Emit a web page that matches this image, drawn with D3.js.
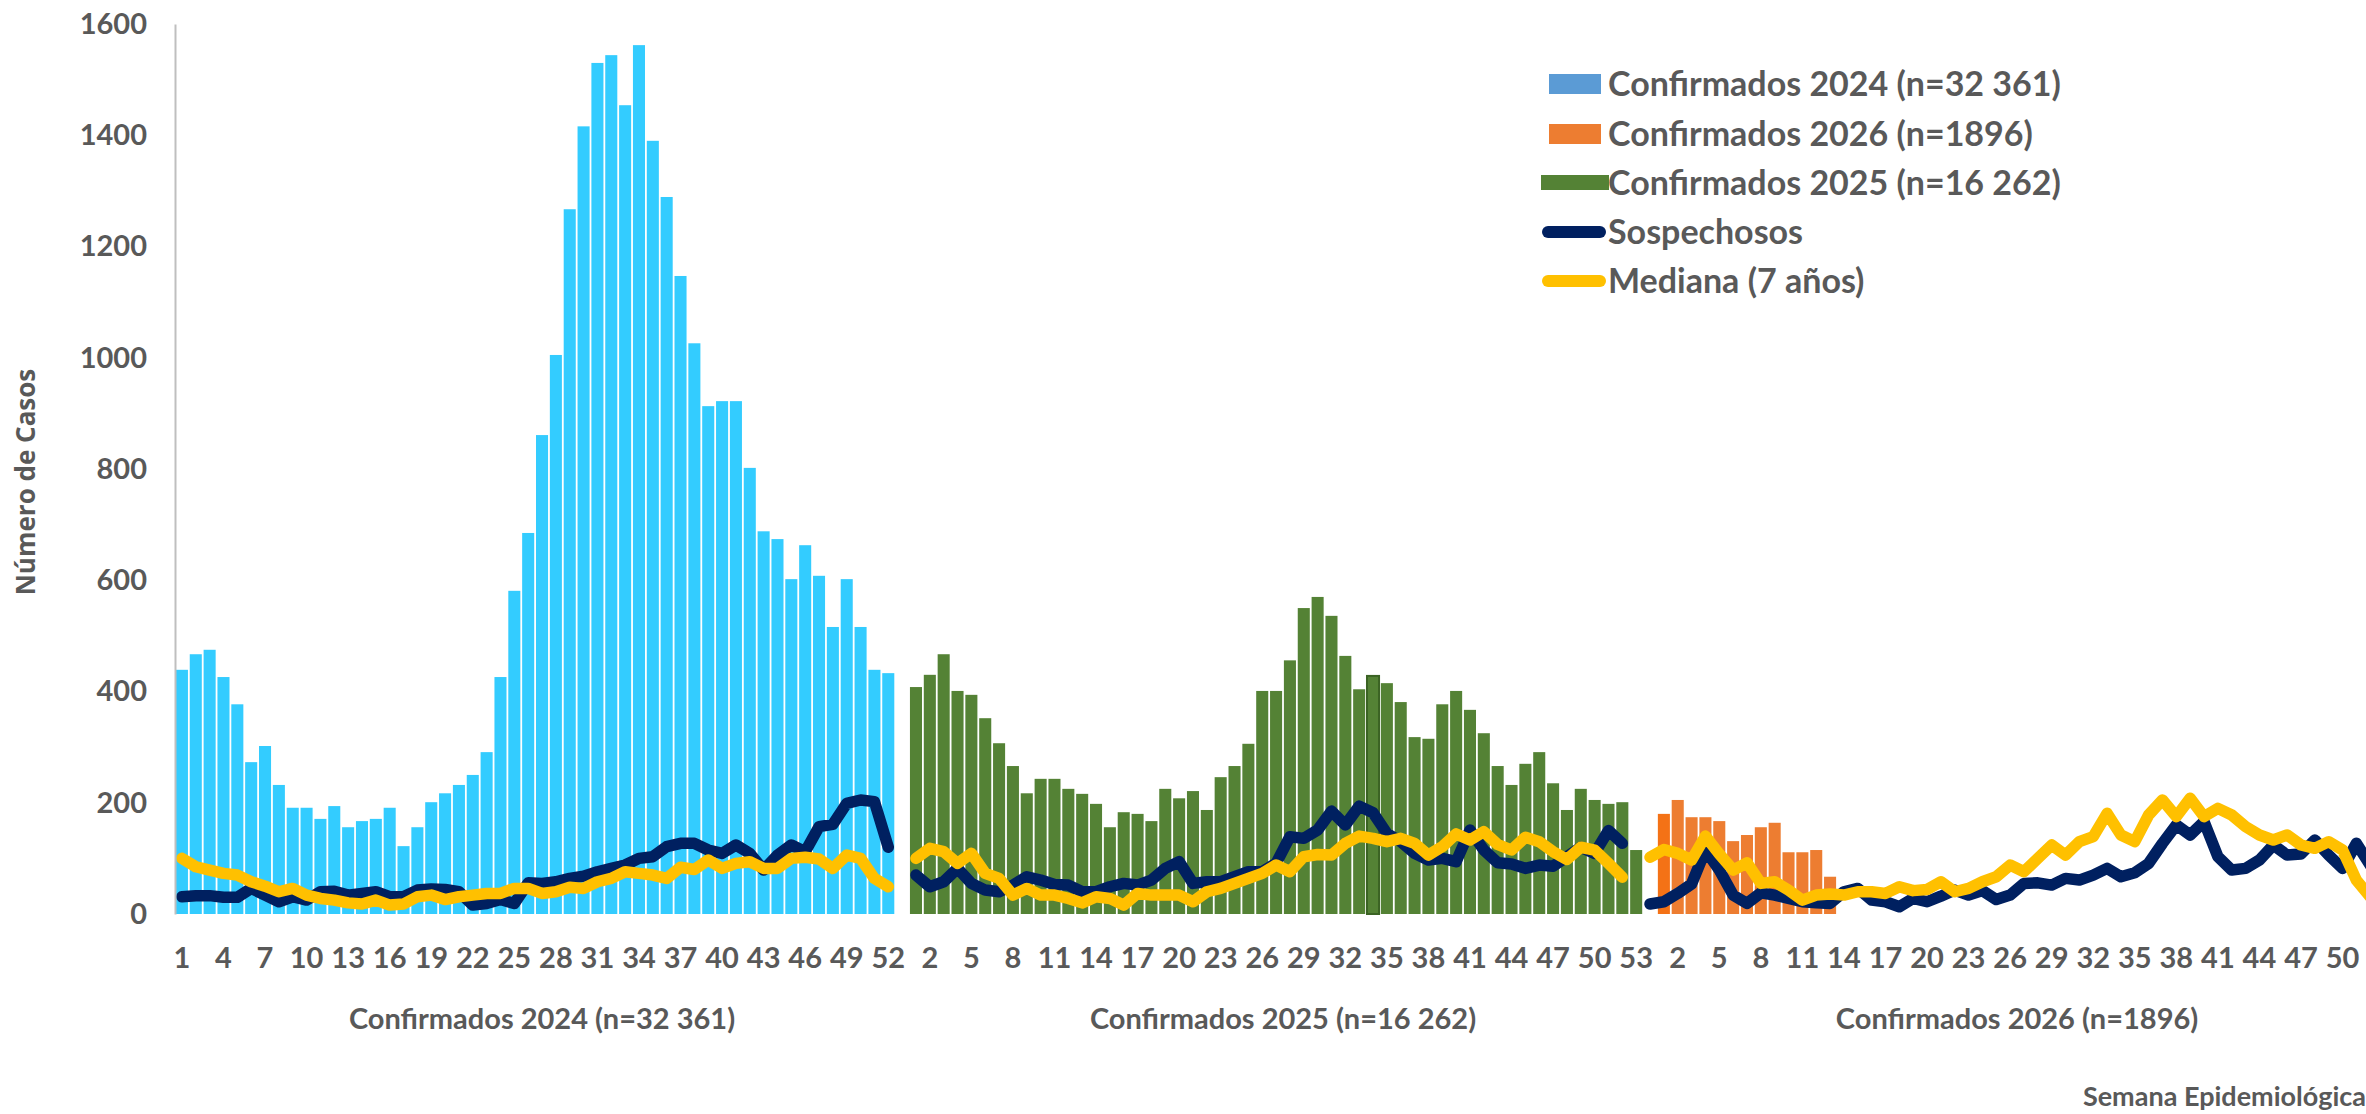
<!DOCTYPE html>
<html><head><meta charset="utf-8">
<script src="https://cdn.jsdelivr.net/npm/d3@7"></script>
<style>html,body{margin:0;padding:0;background:#fff;overflow:hidden}</style>
</head><body><svg id="c" width="2366" height="1114"></svg>
<script>
// ---------------- data ----------------
const groupLabels = ["Confirmados 2024 (n=32 361)", "Confirmados 2025 (n=16 262)", "Confirmados 2026 (n=1896)"];
const groupSlots = [53, 54, 52];           // categories per year block on the axis
const tickWeeks2024 = [1,4,7,10,13,16,19,22,25,28,31,34,37,40,43,46,49,52];
const tickWeeks2025 = [2,5,8,11,14,17,20,23,26,29,32,35,38,41,44,47,50,53];
const tickWeeks2026 = [2,5,8,11,14,17,20,23,26,29,32,35,38,41,44,47,50];
const yTicks = [0,200,400,600,800,1000,1200,1400,1600];

const confirmados2024 = [439,467,475,426,377,273,302,232,191,191,171,194,156,167,171,191,122,156,201,217,232,250,291,426,581,685,861,1005,1267,1416,1530,1544,1454,1562,1390,1289,1147,1026,913,922,922,802,688,674,602,663,608,516,602,516,439,433];
const confirmados2025 = [408,430,467,401,394,352,307,266,217,243,243,225,216,198,156,183,180,167,225,208,221,187,246,266,306,401,401,456,550,570,536,464,404,428,415,381,318,315,377,401,367,325,266,232,270,291,235,187,225,205,198,201,115];
const confirmados2026 = [180,205,174,174,167,131,142,156,164,111,111,115,67];

// line series per year block; first value sits at the block's line start slot
const sospechosos2024 = [31,33,33,30,30,46,34,22,31,25,40,41,34,37,40,31,31,43,45,44,40,16,19,26,19,56,55,58,64,68,76,82,88,100,103,121,127,127,115,109,124,109,79,106,124,112,157,161,199,205,202,120];
const sospechosos2025 = [70,49,58,82,55,43,40,52,67,61,53,52,40,40,49,55,52,61,82,94,55,58,58,67,76,76,91,139,136,151,185,160,194,182,145,130,109,97,100,94,151,115,92,90,82,88,86,103,120,109,150,127];
const sospechosos2026 = [18,22,37,54,115,79,34,19,38,34,28,22,20,19,40,46,25,22,13,28,22,32,43,34,42,26,34,55,56,52,64,61,70,82,67,74,91,127,160,142,166,103,79,82,97,124,106,108,133,106,82,127,88];
const mediana2024 = [100,85,79,73,70,58,50,40,46,34,28,25,20,18,25,16,18,31,34,26,31,34,37,37,46,46,37,40,48,46,58,64,76,73,70,64,84,80,97,82,91,94,82,82,100,102,99,82,106,100,64,49];
const mediana2025 = [100,118,112,91,109,73,64,34,46,34,34,28,20,31,28,16,37,34,34,34,22,40,46,55,64,73,88,76,103,107,106,127,140,136,130,136,127,106,121,144,133,148,125,115,138,130,112,98,120,115,91,66];
const mediana2026 = [102,116,109,97,140,108,79,92,55,58,43,25,34,36,34,40,40,37,49,42,44,58,40,46,58,67,88,76,100,124,106,130,139,181,142,130,178,205,175,208,175,190,178,157,142,133,142,124,118,130,115,61,31];
const lineStartOffset = [0, 0, -1];        // 2026 lines begin one slot before week 1 in the source

const legendItems = [
  {label:"Confirmados 2024 (n=32 361)", kind:"rect", color:"#5B9BD5"},
  {label:"Confirmados 2026 (n=1896)", kind:"rect", color:"#ED7D31"},
  {label:"Confirmados 2025 (n=16 262)", kind:"bar", color:"#548235"},
  {label:"Sospechosos", kind:"line", color:"#002060"},
  {label:"Mediana (7 años)", kind:"line", color:"#FFC000"}
];

// ---------------- layout ----------------
const svg = d3.select("#c");
const TXT = "#595959";
const FONT = "Lato, sans-serif";
const plotLeft = 175, plotTop = 24, plotBottom = 914, slotStep = 13.85;
const nSlots = d3.sum(groupSlots);
const groupStart = [0, groupSlots[0], groupSlots[0] + groupSlots[1]];

const x = d3.scaleBand().domain(d3.range(nSlots))
  .range([plotLeft, plotLeft + nSlots * slotStep]).paddingInner(0.13).paddingOuter(0.065);
const y = d3.scaleLinear().domain([0, 1600]).range([plotBottom, plotTop]);
const cx = s => x(s) + x.bandwidth() / 2;

// bars
const barSets = [
  {vals: confirmados2024, g: 0, color: "#33CCFF"},
  {vals: confirmados2025, g: 1, color: "#548235"},
  {vals: confirmados2026, g: 2, color: "#ED7D31"}
];
const bars = [];
barSets.forEach(s => s.vals.forEach((v, i) => bars.push({slot: groupStart[s.g] + i, v, color: s.color, g: s.g, i})));
svg.append("g").selectAll("rect").data(bars).join("rect")
  .attr("x", d => x(d.slot)).attr("width", x.bandwidth())
  .attr("y", d => y(d.v)).attr("height", d => y(0) - y(d.v))
  .attr("fill", d => (d.g === 2 && d.i === 0) ? "#F47216" : d.color)
  .attr("stroke", d => (d.g === 1 && d.i === 33) ? "#3B6324" : "none")
  .attr("stroke-width", 2);

// lines
function seriesPoints(arrs) {
  return arrs.map((a, g) => a.map((v, i) => ({slot: groupStart[g] + lineStartOffset[g] + i, v})));
}
const line = d3.line().x(d => cx(d.slot)).y(d => y(d.v));
const lineLayer = svg.append("g");
[[ [sospechosos2024, sospechosos2025, sospechosos2026], "#002060"],
 [ [mediana2024, mediana2025, mediana2026], "#FFC000"]].forEach(([arrs, col]) => {
  seriesPoints(arrs).forEach(pts => {
    lineLayer.append("path").datum(pts).attr("d", line)
      .attr("fill", "none").attr("stroke", col).attr("stroke-width", 11.5)
      .attr("stroke-linejoin", "round").attr("stroke-linecap", "round");
  });
});

// y axis
const yAxis = svg.append("g").attr("transform", `translate(${plotLeft},0)`)
  .call(d3.axisLeft(y).tickValues(yTicks).tickFormat(d3.format("d")).tickSize(0).tickSizeOuter(0).tickPadding(28));
yAxis.select(".domain").attr("stroke", "#BFBFBF").attr("stroke-width", 2);
yAxis.selectAll("text").attr("fill", TXT).attr("font-family", FONT).attr("font-weight", 700).attr("font-size", 29);

// x axis week labels
const tickSlots = [], tickText = {};
[tickWeeks2024, tickWeeks2025, tickWeeks2026].forEach((arr, g) => arr.forEach(w => {
  const s = groupStart[g] + w - 1; tickSlots.push(s); tickText[s] = String(w);
}));
const xAxis = svg.append("g").attr("transform", `translate(0,${plotBottom})`)
  .call(d3.axisBottom(x).tickValues(tickSlots).tickFormat(s => tickText[s]).tickSize(0));
xAxis.select(".domain").remove();
xAxis.selectAll("text").attr("y", 44).attr("dy", "0.35em")
  .attr("fill", TXT).attr("font-family", FONT).attr("font-weight", 700).attr("font-size", 29);

// group labels
svg.append("g").selectAll("text").data(groupLabels).join("text")
  .attr("x", (d, g) => (x(groupStart[g]) + x(groupStart[g] + groupSlots[g] - 1) + x.bandwidth()) / 2)
  .attr("y", 1019).attr("dy", "0.35em").attr("text-anchor", "middle")
  .attr("fill", TXT).attr("font-family", FONT).attr("font-weight", 700).attr("font-size", 29)
  .text(d => d);

// axis titles
svg.append("text").attr("transform", "translate(26,482) rotate(-90)")
  .attr("text-anchor", "middle").attr("dy", "0.35em")
  .attr("fill", TXT).attr("font-family", "Open Sans").attr("font-weight", 700).attr("font-size", 26)
  .text("Número de Casos");
svg.append("text").attr("x", 2366).attr("y", 1097).attr("dy", "0.35em").attr("text-anchor", "end")
  .attr("fill", TXT).attr("font-family", FONT).attr("font-weight", 700).attr("font-size", 27)
  .text("Semana Epidemiológica");

// legend
const lg = svg.append("g");
const legY = [84, 134, 183, 232, 281];
legendItems.forEach((it, k) => {
  const yy = legY[k];
  if (it.kind === "rect") lg.append("rect").attr("x", 1549).attr("y", yy - 10).attr("width", 52).attr("height", 20).attr("fill", it.color);
  else if (it.kind === "bar") lg.append("rect").attr("x", 1541).attr("y", yy - 8).attr("width", 68).attr("height", 15).attr("fill", it.color);
  else lg.append("line").attr("x1", 1548).attr("x2", 1600).attr("y1", yy).attr("y2", yy)
    .attr("stroke", it.color).attr("stroke-width", 12).attr("stroke-linecap", "round");
  lg.append("text").attr("x", 1608).attr("y", yy).attr("dy", "0.36em")
    .attr("fill", TXT).attr("font-family", FONT).attr("font-weight", 700).attr("font-size", 34)
    .text(it.label);
});
</script></body></html>
